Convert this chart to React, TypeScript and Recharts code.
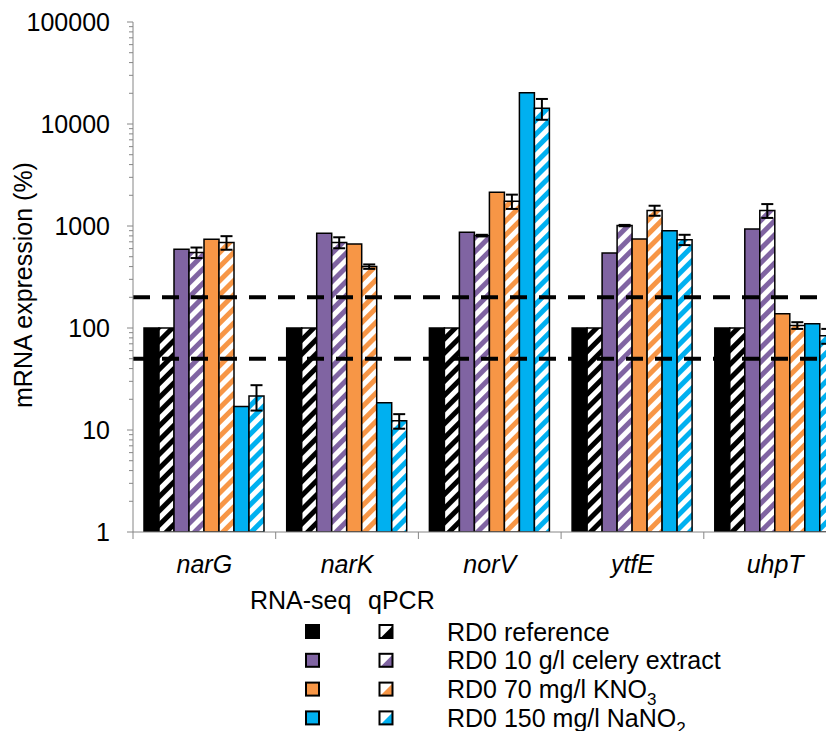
import React from 'react';
import { BarChart, Bar, XAxis, YAxis, ReferenceLine, ErrorBar } from 'recharts';

// ---- data ----
const categories = ['narG', 'narK', 'norV', 'ytfE', 'uhpT'];
const rnaReference = [100, 100, 100, 100, 100];
const qpcrReference = [100, 100, 100, 100, 100];
const rnaCelery = [590, 850, 870, 545, 935];
const qpcrCelery = [550, 690, 805, 1010, 1420];
const qpcrCeleryErr = [65, 85, 15, 15, 220];
const rnaKNO3 = [740, 665, 2140, 745, 138];
const qpcrKNO3 = [690, 400, 1750, 1420, 106];
const qpcrKNO3Err = [105, 20, 280, 160, 8];
const rnaNaNO2 = [17, 18.5, 20300, 900, 110];
const qpcrNaNO2 = [21.5, 12.3, 14300, 735, 84];
const qpcrNaNO2Err = [6, 2, 3300, 85, 14];
const yMajorTicks = [1, 10, 100, 1000, 10000, 100000];
const thresholds = [200, 50];
const legendLabels = ['RD0 reference', 'RD0 10 g/l celery extract', 'RD0 70 mg/l KNO', 'RD0 150 mg/l NaNO'];
const legendSubscripts = ['', '', '3', '2'];

// ---- styles ----
const FONT = '"Liberation Sans", Arial, Helvetica, sans-serif';
const AXIS = '#868686';
const COLORS = ['#000000', '#8064A2', '#F79646', '#00B0F0'];
const CHART_W = 850;
const CHART_H = 740;
const Y_W = 125;
const MARGIN = { top: 14, right: 11.5, left: 0, bottom: 176 };
const PLOT_W = CHART_W - Y_W - MARGIN.right - MARGIN.left;
const BAND = PLOT_W / categories.length;
const TICK_SIZE = 5;
const TICK_MARGIN = 18;

const data = categories.map((c, i) => ({
  name: c,
  rnaReference: rnaReference[i],
  qpcrReference: qpcrReference[i],
  rnaCelery: rnaCelery[i],
  qpcrCelery: qpcrCelery[i],
  qpcrCeleryErr: qpcrCeleryErr[i],
  rnaKNO3: rnaKNO3[i],
  qpcrKNO3: qpcrKNO3[i],
  qpcrKNO3Err: qpcrKNO3Err[i],
  rnaNaNO2: rnaNaNO2[i],
  qpcrNaNO2: qpcrNaNO2[i],
  qpcrNaNO2Err: qpcrNaNO2Err[i],
}));

const allYTicks: number[] = [];
yMajorTicks.forEach((d, i) => {
  allYTicks.push(d);
  if (i < yMajorTicks.length - 1) {
    for (let m = 2; m <= 9; m++) allYTicks.push(d * m);
  }
});
const majorSet = new Set(yMajorTicks);

const YTick = (props: any) => {
  const { x, y, payload } = props;
  const v = payload.value;
  const major = majorSet.has(v);
  const axisX = x + TICK_SIZE + TICK_MARGIN;
  return (
    <g>
      <line x1={axisX - (major ? 6 : 4)} x2={axisX} y1={y} y2={y} stroke={AXIS} strokeWidth={1} />
      {major && (
        <text x={x} y={y} dy="0.35em" textAnchor="end" fontSize={25} fontFamily={FONT} fill="#000">
          {v}
        </text>
      )}
    </g>
  );
};

const XTick = (props: any) => {
  const { x, y, payload } = props;
  return (
    <g>
      <line x1={x - BAND / 2} x2={x - BAND / 2} y1={y} y2={y + 7} stroke={AXIS} strokeWidth={1} />
      <text x={x} y={y + 41} textAnchor="middle" fontSize={25} fontStyle="italic" fontFamily={FONT} fill="#000">
        {payload.value}
      </text>
    </g>
  );
};

const hatchIds = ['hatch-black', 'hatch-purple', 'hatch-orange', 'hatch-blue'];

const Legend = () => {
  const rowBase = 640.5;
  const rowStep = 28.8;
  return (
    <svg
      width={834}
      height={740}
      style={{ position: 'absolute', left: -8, top: -8, pointerEvents: 'none' }}
    >
      <text
        transform="translate(32,285) rotate(-90)"
        textAnchor="middle"
        fontSize={25}
        fontFamily={FONT}
        fill="#000"
      >
        mRNA expression (%)
      </text>
      <text x={250} y={609} fontSize={25} fontFamily={FONT} fill="#000">RNA-seq</text>
      <text x={368} y={609} fontSize={25} fontFamily={FONT} fill="#000">qPCR</text>
      {legendLabels.map((lab, i) => {
        const base = rowBase + i * rowStep;
        const cy = base - 9;
        const s = 13;
        const hx = 379.5;
        const hy = cy - s / 2;
        return (
          <g key={lab}>
            <rect x={306} y={cy - s / 2} width={s} height={s} fill={COLORS[i]} stroke="#000" strokeWidth={2} />
            <rect x={hx} y={hy} width={s} height={s} fill="#fff" stroke="none" />
            <polygon
              points={`${hx + s},${hy + 1} ${hx + s},${hy + s} ${hx + 1},${hy + s}`}
              fill={COLORS[i]}
            />
            <rect x={hx} y={hy} width={s} height={s} fill="none" stroke="#000" strokeWidth={2} />
            <text x={447} y={base} fontSize={25} fontFamily={FONT} fill="#000">
              {lab}
              {legendSubscripts[i] && (
                <tspan dy={7} fontSize={17}>{legendSubscripts[i]}</tspan>
              )}
            </text>
          </g>
        );
      })}
    </svg>
  );
};

export default function App() {
  const seriesKeys = [
    ['rnaReference', 'qpcrReference', null],
    ['rnaCelery', 'qpcrCelery', 'qpcrCeleryErr'],
    ['rnaKNO3', 'qpcrKNO3', 'qpcrKNO3Err'],
    ['rnaNaNO2', 'qpcrNaNO2', 'qpcrNaNO2Err'],
  ] as const;
  const bars: React.ReactNode[] = [];
  seriesKeys.forEach(([rna, qpcr, err], i) => {
    bars.push(
      <Bar
        key={rna}
        dataKey={rna}
        fill={COLORS[i]}
        stroke="#000"
        strokeWidth={1.5}
        isAnimationActive={false}
      />
    );
    bars.push(
      <Bar
        key={qpcr}
        dataKey={qpcr}
        fill={`url(#${hatchIds[i]})`}
        stroke="#000"
        strokeWidth={1.5}
        isAnimationActive={false}
      >
        {err && (
          <ErrorBar dataKey={err} direction="y" width={6} stroke="#000" strokeWidth={2} isAnimationActive={false} />
        )}
      </Bar>
    );
  });

  return (
    <div style={{ position: 'relative', width: CHART_W, height: CHART_H }}>
      <style>{'html{overflow:hidden}'}</style>
      <BarChart
        width={CHART_W}
        height={CHART_H}
        data={data}
        margin={MARGIN}
        barCategoryGap={11}
        barGap={0}
      >
        <defs>
          {hatchIds.map((id, i) => (
            <pattern
              key={id}
              id={id}
              patternUnits="userSpaceOnUse"
              width={10}
              height={10}
              patternTransform="rotate(45)"
            >
              <rect width={10} height={10} fill="#fff" />
              <rect width={5} height={10} fill={COLORS[i]} />
            </pattern>
          ))}
        </defs>
        <XAxis
          dataKey="name"
          height={40}
          axisLine={{ stroke: AXIS, strokeWidth: 1 }}
          tickLine={false}
          tickSize={0}
          tickMargin={0}
          interval={0}
          tick={<XTick />}
        />
        <YAxis
          type="number"
          scale="log"
          domain={[1, 100000]}
          allowDataOverflow
          width={Y_W}
          ticks={allYTicks}
          interval={0}
          axisLine={{ stroke: AXIS, strokeWidth: 1 }}
          tickLine={false}
          tickSize={TICK_SIZE}
          tickMargin={TICK_MARGIN}
          tick={<YTick />}
        />
        {bars}
        {thresholds.map((t) => (
          <ReferenceLine key={t} y={t} stroke="#000" strokeWidth={4} strokeDasharray="17 12" />
        ))}
      </BarChart>
      <Legend />
    </div>
  );
}
